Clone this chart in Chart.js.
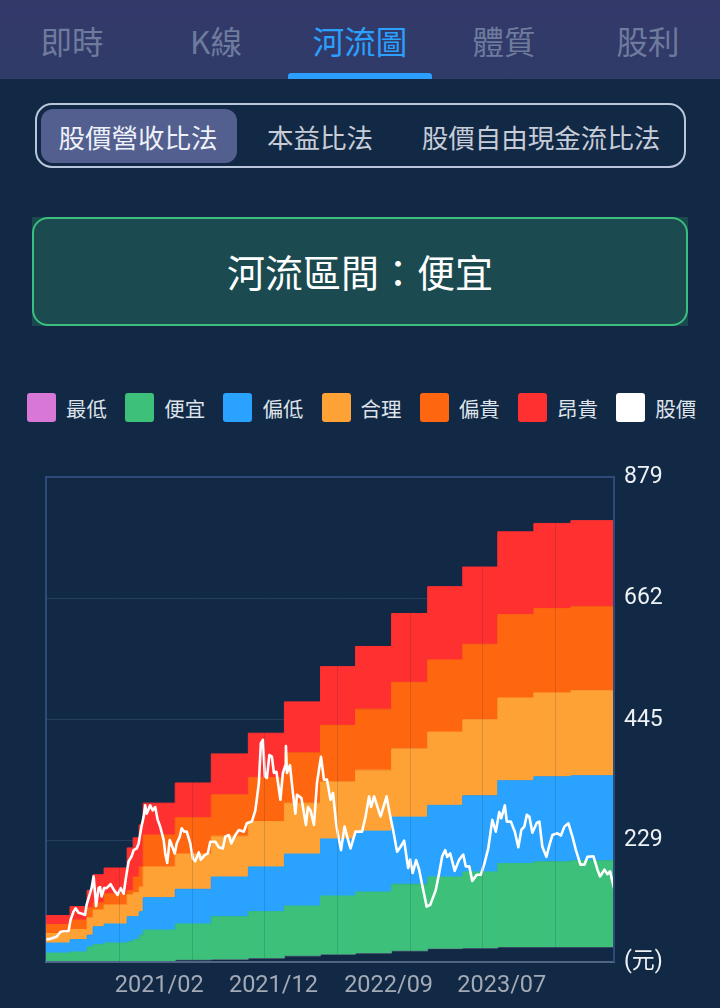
<!DOCTYPE html>
<html lang="zh-Hant"><head><meta charset="utf-8">
<script src="https://cdn.jsdelivr.net/npm/chart.js@4"></script>
<style>
html,body{margin:0;padding:0;background:#122945;width:720px;height:1008px;overflow:hidden;font-family:"Noto Sans CJK TC","Roboto",sans-serif}
.abs{position:absolute}
#head{left:0;top:0;width:720px;height:79px;background:linear-gradient(#34396a,#2f3b68)}
.tab{top:14px;width:144px;height:52px;line-height:52px;text-align:center;font-size:31.5px;color:#6f7b9d}
.tab.on{color:#2ba0ff}
#ul{left:288px;top:73px;width:144px;height:6px;border-radius:3px 3px 0 0;background:#2b9ffb}
#seg{left:35px;top:103px;width:647px;height:61px;border:2px solid #b9c6dc;border-radius:17px}
#pill{left:41px;top:109px;width:196px;height:54px;border-radius:12px;background:#525f8f}
.s{top:112px;height:50px;line-height:50px;font-size:26.5px;color:#c6ccd8;white-space:nowrap;transform:translateX(-50%)}
#boxbg{left:32px;top:217px;width:656px;height:109px;background:#1a4a4f}
#box{left:32px;top:217px;width:652px;height:105px;border:2px solid #3cbf7c;border-radius:16px;background:#1b4a50;
 color:#fff;font-size:38px;line-height:103px;text-align:center}
.sw{top:393px;width:29px;height:29px;border-radius:3px}
.lt{top:393px;height:30px;line-height:30px;font-size:20.5px;color:#dfe3ea;white-space:nowrap}
canvas{position:absolute;left:0;top:440px}
</style></head><body>
<div id="head" class="abs"></div>
<div id="tabs"></div>
<div id="ul" class="abs"></div>
<div id="seg" class="abs"></div><div id="pill" class="abs"></div>
<div class="abs s" style="left:138px;color:#eef1f7">股價營收比法</div>
<div class="abs s" style="left:320px">本益比法</div>
<div class="abs s" style="left:541px">股價自由現金流比法</div>
<div id="boxbg" class="abs"></div><div id="box" class="abs">河流區間：便宜</div>
<div id="legend"></div>
<canvas id="c" width="720" height="568" style="width:720px;height:568px"></canvas>
<script>
const tabs = ['即時','K線','河流圖','體質','股利'];
const legendNames = ['最低','便宜','偏低','合理','偏貴','昂貴','股價'];
const legendColors = ['#d977d6','#3cc07a','#29a3ff','#ffa236','#ff6610','#ff3030','#ffffff'];
const yTicks = [12,229,445,662,879];
const dateLabels = ['2021/02','2021/12','2022/09','2023/07'];
const dateLabelDays = [226,454,684,910];
const gridDays = [147,292,437,581,727,872,1018];
const lastDay = 1134;
const stepDays = [0,48,82,94,116,162,174,186,194,258,330,404,476,548,618,690,762,832,902,974,1048];
const lowest = [12,12,12,12,12,12,12,12,14,16,17,19,23,26,28,32,36,37,39,39,39];
const cheap = [28,30,39,43,46,48,52,60,69,80,93,102,112,130,137,151,164,173,188,191,193];
const low = [46,52,60,75,80,93,93,102,127,142,164,182,205,232,246,271,292,309,336,343,345];
const fair = [63,70,91,105,114,132,136,146,182,205,237,263,296,334,355,393,423,445,484,493,497];
const high = [79,87,109,118,134,140,164,182,239,270,311,342,386,435,464,512,552,580,633,644,647];
const expensive = [95,111,140,168,180,216,234,257,296,332,384,421,477,540,576,635,683,718,781,796,801];
const priceDays = [1,11,21,29,36,45,49,55,59,65,69,73,78,81,87,91,95,98,100,105,108,111,116,121,129,136,143,149,155,160,165,171,175,181,185,190,195,198,201,208,213,218,223,228,235,238,242,247,251,257,261,267,271,276,281,288,293,298,305,309,318,323,328,338,345,353,358,365,370,378,385,395,401,411,418,425,429,433,437,441,446,451,455,460,468,473,478,479,481,487,493,498,501,510,519,523,528,535,541,549,555,561,568,573,580,589,596,605,608,618,631,638,645,649,655,668,680,685,693,701,708,715,723,727,732,739,745,751,760,767,778,785,791,797,801,807,816,825,833,838,845,851,860,868,875,883,891,898,905,909,916,920,928,936,943,949,955,960,965,971,980,985,991,999,1005,1011,1021,1028,1035,1043,1051,1058,1067,1075,1081,1093,1101,1106,1115,1121,1126,1134];
const priceVals = [52,54,57,66,67,67,87,102,108,100,99,98,96,114,132,144,165,134,112,144,146,129,144,144,151,140,132,144,134,165,192,201,212,215,224,251,272,292,277,292,283,289,266,254,230,206,189,230,221,206,224,236,251,245,245,224,198,192,208,195,204,206,227,227,217,215,236,239,224,239,248,245,260,263,283,332,403,409,344,341,382,379,350,352,302,350,364,398,350,364,314,277,311,305,257,289,283,257,332,379,338,338,302,314,254,212,254,224,215,245,245,272,308,289,308,272,308,283,248,209,218,229,180,195,171,194,177,150,111,114,140,171,201,212,200,206,175,195,204,183,183,157,168,168,187,215,266,245,280,269,292,263,263,245,217,248,254,275,272,243,261,263,218,200,221,239,242,238,254,260,236,212,186,186,200,201,177,165,177,169,174,144];

tabs.forEach((t,i)=>{const d=document.createElement('div');d.className='abs tab'+(i===2?' on':'');d.style.left=i*144+'px';d.textContent=t;document.getElementById('tabs').appendChild(d);});
legendNames.forEach((n,i)=>{const L=document.getElementById('legend');const x=27+i*98.2;
 const s=document.createElement('div');s.className='abs sw';s.style.left=x+'px';s.style.background=legendColors[i];L.appendChild(s);
 const t=document.createElement('div');t.className='abs lt';t.style.left=(x+39)+'px';t.textContent=n;L.appendChild(t);});

const stepData = a => stepDays.map((d,i)=>({x:d,y:a[i]})).concat([{x:lastDay,y:a[a.length-1]}]);
const band = (label,a,color,fill) => ({label,data:stepData(a),stepped:'before',borderWidth:1,borderColor:color,backgroundColor:color,fill,pointRadius:0,order:2});
const frame = {id:'frame',beforeDatasetsDraw(ch){const {ctx,chartArea:a}=ch;ctx.save();ctx.strokeStyle='#2e4a78';ctx.lineWidth=2;ctx.strokeRect(a.left,a.top,a.right-a.left,a.bottom-a.top);ctx.restore();},
 afterDatasetsDraw(ch){const {ctx,chartArea:a}=ch;ctx.save();ctx.strokeStyle='#4f6585';ctx.lineWidth=2;ctx.beginPath();ctx.moveTo(a.left-1,a.bottom);ctx.lineTo(a.right+1,a.bottom);ctx.stroke();ctx.strokeStyle='#2e4a78';ctx.beginPath();ctx.moveTo(a.right,a.top);ctx.lineTo(a.right,a.bottom);ctx.stroke();ctx.restore();}};

new Chart(document.getElementById('c'),{
 type:'line',
 data:{datasets:[
  {label:'最低',data:stepData(lowest),stepped:'before',borderWidth:1,borderColor:'#6d7d92',fill:false,pointRadius:0,order:3},
  band('便宜',cheap,legendColors[1],'-1'),
  band('偏低',low,legendColors[2],'-1'),
  band('合理',fair,legendColors[3],'-1'),
  band('偏貴',high,legendColors[4],'-1'),
  band('昂貴',expensive,legendColors[5],'-1'),
  {label:'股價',data:priceDays.map((d,i)=>({x:d,y:priceVals[i]})),borderColor:'#ffffff',borderWidth:2.6,fill:false,pointRadius:0,tension:0,borderJoinStyle:'round',order:0}
 ]},
 options:{
  responsive:false,animation:false,devicePixelRatio:1,
  layout:{padding:{left:46,top:37,right:0,bottom:0}},
  plugins:{legend:{display:false},tooltip:{enabled:false}},
  scales:{
   x:{type:'linear',min:0,max:lastDay,position:'bottom',
      afterBuildTicks(s){s.ticks=gridDays.map(v=>({value:v}));},
      afterFit(s){s.height=0;},
      grid:{color:'rgba(18,41,69,0.16)',lineWidth:1,drawTicks:false,z:1},border:{display:false},
      ticks:{display:false}},
   x2:{type:'linear',min:0,max:lastDay,position:'bottom',
      afterBuildTicks(s){s.ticks=dateLabelDays.map(v=>({value:v}));},
      afterFit(s){s.height=46;},
      grid:{display:false},border:{display:false},
      ticks:{autoSkip:false,maxRotation:0,padding:2,color:'#a3aab5',font:{family:'Roboto',size:23.5},
       callback:v=>dateLabels[dateLabelDays.indexOf(v)]}},
   y:{type:'linear',position:'right',min:12,max:879,
      afterBuildTicks(s){s.ticks=yTicks.map(v=>({value:v}));},
      afterFit(s){s.width=106;},
      grid:{color:'#263f60',lineWidth:1,drawTicks:false},border:{display:false},
      ticks:{padding:10,color:'#eef1f5',font:{family:'Roboto, "Noto Sans CJK TC"',size:23},
       callback:v=>v===12?'(元)':String(v)}}
  }
 },
 plugins:[frame]
});
</script></body></html>
